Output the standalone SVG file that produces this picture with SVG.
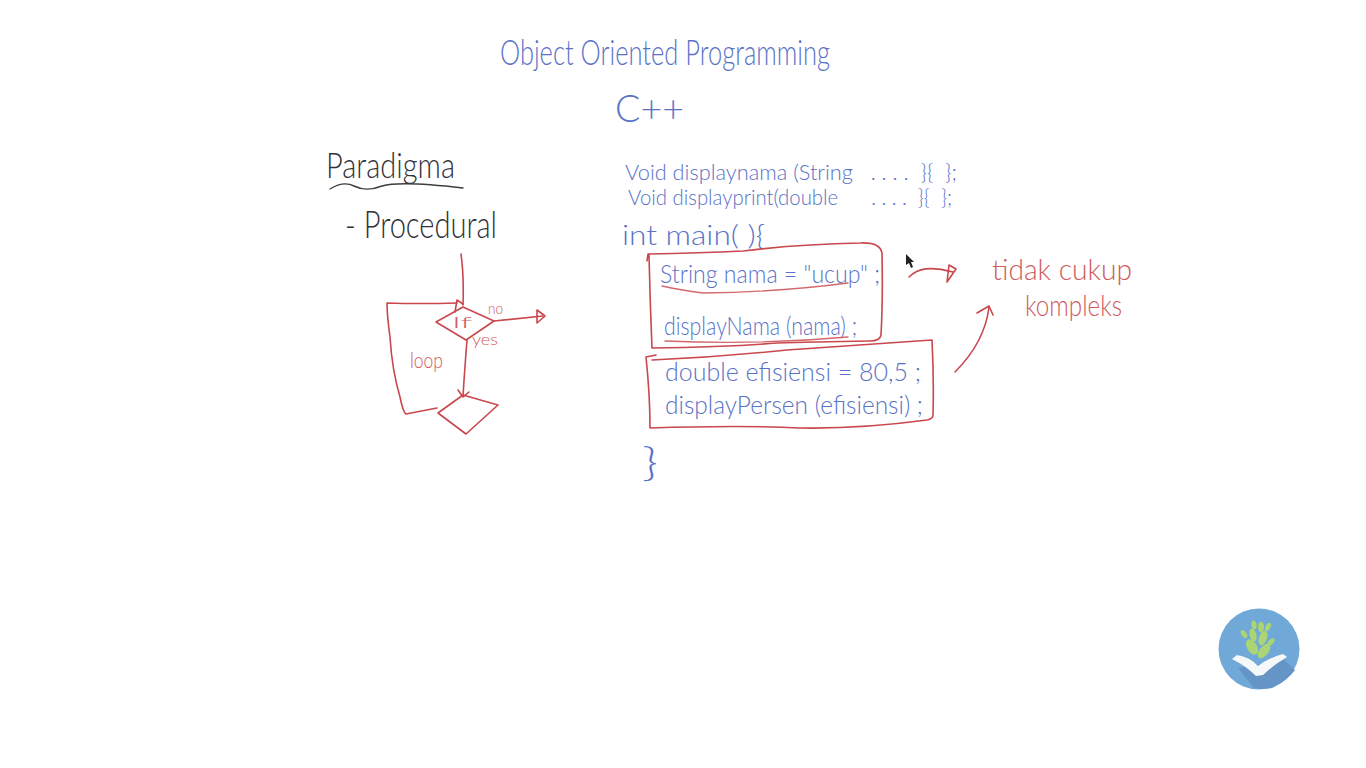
<svg xmlns="http://www.w3.org/2000/svg" width="1366" height="768" viewBox="0 0 1366 768">
<style>
text{font-family:"Lato","Liberation Sans",sans-serif;font-weight:300}
.b{fill:#5a72c6}
.k{fill:#30323a}
.r{fill:#cf5a60}
.ln{fill:none;stroke:#c9474d;stroke-width:1.6;stroke-linecap:round;stroke-linejoin:round}
.lt{fill:none;stroke:#d4676c;stroke-width:1.3;stroke-linecap:round;stroke-linejoin:round}
</style>
<rect width="1366" height="768" fill="#ffffff"/>
<g id="title">
<text class="b" x="500" y="65" font-size="36" textLength="330" lengthAdjust="spacingAndGlyphs">Object Oriented Programming</text>
<text class="b" x="615" y="122" font-size="38" textLength="69" lengthAdjust="spacingAndGlyphs">C++</text>
</g>
<g id="paradigma">
<text class="k" x="326" y="178" font-size="36" textLength="129" lengthAdjust="spacingAndGlyphs">Paradigma</text>
<path d="M330 189C338 184 346 182 354 186C362 190 372 190 382 186C396 182 420 183 463 188" fill="none" stroke="#3c3e44" stroke-width="1.4" stroke-linecap="round"/>
<text class="k" x="345" y="238" font-size="37" textLength="152" lengthAdjust="spacingAndGlyphs">- Procedural</text>
</g>
<g id="code">
<text class="b" x="625" y="180" font-size="21" textLength="332" lengthAdjust="spacingAndGlyphs">Void displaynama (String&#160;&#160;&#160;. . . .&#160;&#160;}{ &#160;};</text>
<text class="b" x="628" y="205" font-size="21" textLength="324" lengthAdjust="spacingAndGlyphs">Void displayprint(double&#160;&#160;&#160;&#160;&#160;&#160;. . . .&#160;&#160;}{ &#160;};</text>
<text class="b" x="622" y="245" font-size="27" textLength="143" lengthAdjust="spacingAndGlyphs">int main( ){</text>
<text class="b" x="660" y="283" font-size="25" textLength="220" lengthAdjust="spacingAndGlyphs">String nama = "ucup" ;</text>
<text class="b" x="664" y="335" font-size="25" textLength="193" lengthAdjust="spacingAndGlyphs">displayNama (nama) ;</text>
<text class="b" x="665" y="381" font-size="25" textLength="256" lengthAdjust="spacingAndGlyphs">double efisiensi =  80,5 ;</text>
<text class="b" x="665" y="414" font-size="25" textLength="258" lengthAdjust="spacingAndGlyphs">displayPersen (efisiensi) ;</text>
<text class="b" x="642" y="476" font-size="40" textLength="16" lengthAdjust="spacingAndGlyphs">}</text>
</g>
<g id="note">
<text class="r" x="992" y="280" font-size="29" textLength="140" lengthAdjust="spacingAndGlyphs">tidak cukup</text>
<text class="r" x="1025" y="316" font-size="29" textLength="97" lengthAdjust="spacingAndGlyphs">kompleks</text>
</g>
<g id="flow-labels">
<text class="r" x="452" y="328" font-size="16" textLength="20" lengthAdjust="spacingAndGlyphs">If</text>
<text class="r" x="488" y="314" font-size="15" textLength="15" lengthAdjust="spacingAndGlyphs">no</text>
<text class="r" x="472" y="345" font-size="15" textLength="26" lengthAdjust="spacingAndGlyphs">yes</text>
<text class="r" x="410" y="368" font-size="22" textLength="33" lengthAdjust="spacingAndGlyphs">loop</text>
</g>
<g id="connectors">
<path class="ln" d="M461 254Q464 275 463 305"/>
<path class="ln" d="M437 408L406 414Q403 412 400 397Q392 370 390 337Q387 315 387 303Q420 304 457 303"/>
<path class="ln" d="M455 312L457 300L463 304"/>
<path class="ln" d="M494 321L543 316"/>
<path class="ln" d="M537 310L545 316L537 323Z"/>
<path class="ln" d="M467 340Q465 365 463 396"/>
<path class="ln" d="M458 390L463 397L469 392"/>
<path class="ln" d="M909 277C918 268 930 266 953 272"/>
<path class="ln" d="M949 265L956 269L947 282Z"/>
<path class="ln" d="M955 372C975 352 986 332 989 307"/>
<path class="ln" d="M977 313L989 306L993 315"/>
<path class="lt" d="M662 286Q680 290 703 293Q780 292 848 283"/>
<path class="lt" d="M665 341Q760 345 848 337"/>
</g>
<g id="if-diamond"><path class="ln" d="M463 307L494 321L466 340L436 322Z"/></g>
<g id="step-diamond"><path class="ln" d="M463 395L498 405L466 434L438 413Z"/></g>
<g id="box-1"><path class="ln" d="M647 261L648 254Q700 253 743 251Q800 244 860 243Q880 242 882 253Q883 300 881 335Q880 341 870 341Q810 342 777 343Q730 347 652 348Q650 300 649 255"/></g>
<g id="box-2"><path class="ln" d="M656 355L646 357Q650 395 650 428Q740 425 800 428Q860 429 927 420Q933 419 933 415Q934 380 932 340Q860 345 787 350Q720 357 652 360"/></g>
<g id="cursor"><polygon points="906,254 906,265 909,263 911,268 913,267 911,262 914,262" fill="#222"/></g>
<g id="logo">
<circle cx="1259" cy="649" r="40.500" fill="#70a8d8"/>
<path d="M1284 660L1295 670Q1288 680 1272 688Q1262 690 1254 688L1238 668Z" fill="#6495c6"/>
<g fill="#abd574">
<ellipse cx="1254" cy="625" rx="2.500" ry="4.500" transform="rotate(-10 1254 625)"/>
<ellipse cx="1261" cy="627" rx="3" ry="5.500"/>
<ellipse cx="1268" cy="627" rx="2.500" ry="4.500" transform="rotate(25 1268 627)"/>
<ellipse cx="1244" cy="634" rx="2.500" ry="4.500" transform="rotate(-35 1244 634)"/>
<ellipse cx="1253" cy="635" rx="3.500" ry="6.500" transform="rotate(-15 1253 635)"/>
<ellipse cx="1263" cy="638" rx="4" ry="7.500" transform="rotate(20 1263 638)"/>
<ellipse cx="1271" cy="642" rx="2.500" ry="4.500" transform="rotate(45 1271 642)"/>
<ellipse cx="1252" cy="647" rx="5" ry="8.500" transform="rotate(-30 1252 647)"/>
<ellipse cx="1264" cy="651" rx="4.500" ry="8.500" transform="rotate(38 1264 651)"/>
</g>
<path d="M1232 659L1237 655Q1250 657 1258 666Q1268 658 1283 654L1287 657Q1272 666 1263 675L1256 676Q1246 666 1232 659Z" fill="#f5f8f8"/>
</g>
</svg>
